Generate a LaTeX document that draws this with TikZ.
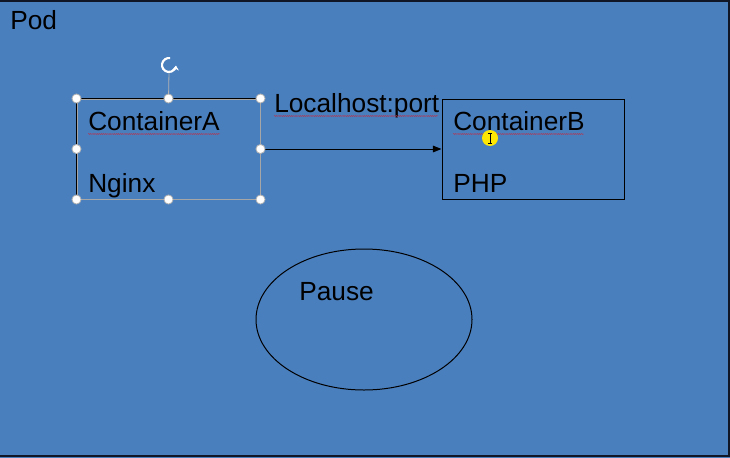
\documentclass[tikz,border=0pt]{standalone}
\usepackage{fontspec}
\setmainfont{Liberation Sans}
\usepackage{tikz}
\usetikzlibrary{shapes.geometric, arrows.meta, decorations.pathmorphing}

\definecolor{podblue}{RGB}{74,127,190}
\definecolor{frame}{RGB}{16,22,38}

\begin{document}
\begin{tikzpicture}[
                x=0.75pt, y=-0.75pt,
                every node/.style={font=\fontsize{19.7}{23}\selectfont, text=black}, % slide text
                label/.style={anchor=base west, inner sep=0pt}, % text placed by its baseline
                box/.style={rectangle, draw=black, line width=0.75pt, minimum width=136.5pt, minimum height=75pt, inner sep=0pt}, % container box
                handle/.style={circle, draw=gray!60, fill=white, line width=0.6pt, minimum size=6.8pt, inner sep=0pt}, % selection handle
                squiggle/.style={red!55!podblue, line width=0.35pt, decorate, decoration={snake, amplitude=0.4pt, segment length=1.6pt}} % spell check
                ]
                % background of the slide
                \useasboundingbox (0,0) rectangle (730,457);
                \fill[podblue] (-3,-3) rectangle (733,460);
                \draw[frame, line width=1.5pt] (-3,0.5) -- (729,0.5) -- (729,456) -- (-3,456);
                \node[label] (pod) at (10,29) {Pod};

                % containers
                \node[box, draw=gray!70, minimum width=137.25pt] (boxA) at (168.5,149) {};
                \draw[black, line width=0.75pt] (boxA.south west) -- (boxA.north west) -- (boxA.north east);
                \node[box] (boxB) at (533,149) {};
                \node[label] (nameA) at (88,130.5) {ContainerA};
                \node[label] (appA) at (88,192.5) {Nginx};
                \node[label] (nameB) at (453,130.5) {ContainerB};
                \node[label] (appB) at (453,192.5) {PHP};
                \draw[squiggle] (88,134) -- (220,134);
                \draw[squiggle] (453,134) -- (584,134);

                % link between the containers
                \draw[-{Triangle[length=6.5pt, width=5pt]}, line width=0.75pt] (boxA.east) -- (boxB.west);
                \node[label] (link) at (274,112.5) {Localhost:port};
                \draw[squiggle] (274,116) -- (438,116);

                % pause container
                \node[ellipse, draw=black, line width=0.75pt, minimum width=162pt, minimum height=105.75pt, inner sep=0pt] (pause) at (364,319.5) {};
                \node[label] (pausetext) at (299,300.5) {Pause};

                % selection of ContainerA
                \coordinate (rot) at (169,65);
                \draw[gray!60, line width=0.6pt] (boxA.north) -- (169,72);
                \draw[white, line width=1.6pt, -{Stealth[length=3.5pt, width=5pt]}] ([shift={(-80:7)}]rot) arc (-80:-355:7);
                \foreach \a [count=\i] in {north west, north, north east, east, south east, south, south west, west}
                    \node[handle] (hA\i) at (boxA.\a) {};

                % pointer
                \fill[yellow!90!orange] (490,138) circle (8);
                \draw[black, line width=0.6pt] (490,133) -- (490,143) (488,133) -- (492,133) (488,143) -- (492,143);
            \end{tikzpicture}
\end{document}
